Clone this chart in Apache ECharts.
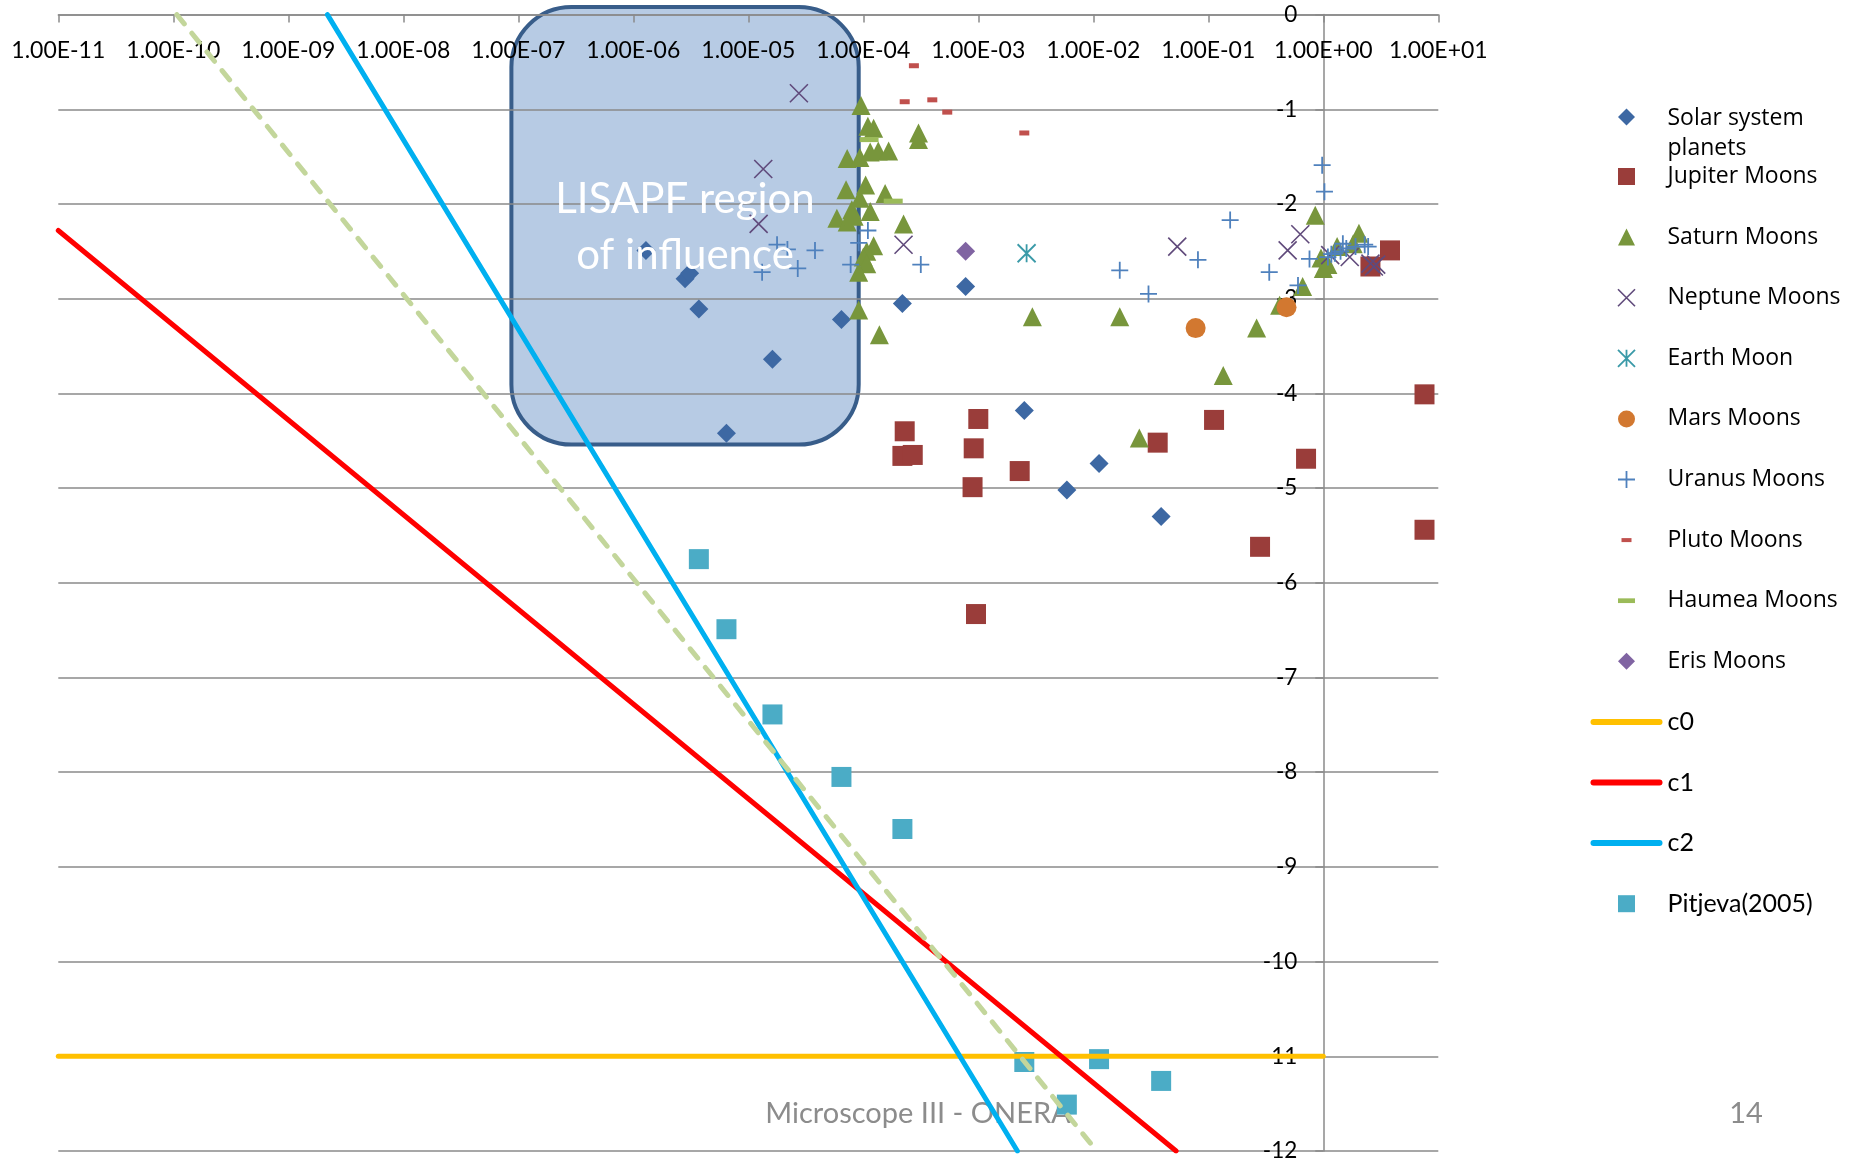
<!DOCTYPE html>
<html>
<head>
<meta charset="utf-8">
<title>Mass ratio vs. effect</title>
<script src="https://cdn.jsdelivr.net/npm/echarts@6/dist/echarts.min.js"></script>
<style>
  html, body { margin: 0; padding: 0; background: #ffffff; }
  #chart { width: 1854px; height: 1158px; }
</style>
</head>
<body>
<div id="chart"></div>
<script>
// Every point is [log10(x), log10(y)]; the x axis is labelled as powers of ten.
const xTickLabels = ['1.00E-11', '1.00E-10', '1.00E-09', '1.00E-08', '1.00E-07', '1.00E-06',
  '1.00E-05', '1.00E-04', '1.00E-03', '1.00E-02', '1.00E-01', '1.00E+00', '1.00E+01'];

const solarPlanets = [[-5.89, -2.49], [-5.55, -2.79], [-5.51, -2.73], [-5.43, -3.11], [-5.19, -4.42],
  [-4.79, -3.64], [-4.19, -3.22], [-3.66, -3.05], [-3.11, -2.87], [-2.60, -4.18], [-2.23, -5.02],
  [-1.95, -4.74], [-1.41, -5.30]];

const jupiterMoons = [[-3.64, -4.40], [-3.66, -4.66], [-3.57, -4.65], [-3.00, -4.27], [-3.04, -4.58],
  [-3.05, -4.99], [-2.64, -4.82], [-3.02, -6.33], [-1.44, -4.52], [-0.95, -4.28], [-0.55, -5.62],
  [-0.15, -4.69], [0.41, -2.66], [0.58, -2.49], [0.88, -4.01], [0.88, -5.44]];

const saturnMoons = [[-4.02, -0.96], [-3.96, -1.18], [-3.91, -1.20], [-3.52, -1.25], [-3.52, -1.32],
  [-4.14, -1.52], [-4.03, -1.51], [-3.94, -1.45], [-3.87, -1.44], [-3.78, -1.44], [-4.15, -1.85],
  [-3.98, -1.80], [-3.81, -1.89], [-4.23, -2.15], [-4.14, -2.19], [-4.10, -2.06], [-4.03, -1.94],
  [-3.94, -2.08], [-3.65, -2.21], [-4.08, -2.13], [-3.91, -2.44], [-3.97, -2.50], [-4.00, -2.56],
  [-3.97, -2.63], [-4.04, -2.72], [-4.04, -3.12], [-3.86, -3.38], [-2.53, -3.19], [-1.77, -3.19],
  [-1.60, -4.47], [-0.87, -3.81], [-0.58, -3.31], [-0.38, -3.07], [-0.18, -2.87], [-0.07, -2.12],
  [-0.02, -2.57], [0.00, -2.68], [0.04, -2.64], [0.12, -2.45], [0.26, -2.42], [0.31, -2.31]];

const neptuneMoons = [[-4.56, -0.83], [-4.87, -1.63], [-4.91, -2.21], [-3.65, -2.43], [-1.27, -2.45],
  [-0.31, -2.49], [-0.20, -2.32], [0.06, -2.54], [0.23, -2.56], [0.41, -2.63], [0.46, -2.64],
  [0.44, -2.66]];

const earthMoon = [[-2.58, -2.52]];

const marsMoons = [[-1.11, -3.31], [-0.32, -3.09]];

const uranusMoons = [[-4.75, -2.43], [-4.66, -2.48], [-4.88, -2.72], [-4.57, -2.68], [-4.42, -2.49],
  [-3.96, -2.28], [-4.04, -2.41], [-4.11, -2.64], [-3.50, -2.64], [-1.77, -2.70], [-1.52, -2.95],
  [-1.09, -2.59], [-0.81, -2.17], [-0.47, -2.72], [-0.22, -2.86], [-0.01, -1.59], [0.01, -1.87],
  [-0.12, -2.58], [0.04, -2.56], [0.15, -2.50], [0.17, -2.42], [0.20, -2.47], [0.28, -2.45],
  [0.36, -2.43], [0.39, -2.45], [0.10, -2.52], [0.07, -2.53]];

const plutoMoons = [[-3.56, -0.54], [-3.64, -0.92], [-3.40, -0.90], [-3.27, -1.03], [-2.60, -1.25]];

const haumeaMoons = [[-3.95, -1.32], [-3.74, -1.97]];

const erisMoons = [[-3.11, -2.50]];

const pitjeva2005 = [[-5.43, -5.75], [-5.19, -6.49], [-4.79, -7.39], [-4.19, -8.05], [-3.66, -8.60],
  [-2.60, -11.06], [-1.95, -11.03], [-1.41, -11.26], [-2.23, -11.51]];

// Limit lines, given by their end points
const c0Line = [[-11, -11], [0, -11]];
const c1Line = [[-11, -2.28], [-1.28, -12]];
const c2Line = [[-8.66, 0], [-2.66, -12]];
const trendLine = [[-9.97, 0], [-1.97, -12]];

// Corners of the LISAPF region (same units as the points)
const lisapfRegion = [[-7.06, 0.08], [-4.04, -4.54]];

const chart = echarts.init(document.getElementById('chart'), null, { renderer: 'canvas' });

const GRID_COLOR = '#8a8a8a';
const xMark = 'path://M0,0L10,10M10,0L0,10';
const plusMark = 'path://M5,0L5,10M0,5L10,5';
const starMark = 'path://M0,0L10,10M10,0L0,10M5,0L5,10';
const dashMark = 'path://M0,0h10v4h-10z';

// Legend icons (square boxes so they keep their shape)
const iconDiamond = 'path://M8.5,0L17,8.5L8.5,17L0,8.5Z';
const iconSquare = 'path://M0,0H17V17H0Z';
const iconTriangle = 'path://M8.5,0L17,17H0Z';
const iconCircle = 'path://M0,8.5A8.5,8.5 0 1 1 17,8.5A8.5,8.5 0 1 1 0,8.5Z';
const iconLine = 'path://M3,0H69A3,3 0 0 1 69,6H3A3,3 0 0 1 3,0Z';
// diamond sitting on the first of two text lines
const iconDiamondTop = 'path://M0,0M17,50M8.5,0L17,8.5L8.5,17L0,8.5Z';

function scatter(name, data, symbol, size, color, extra) {
  return Object.assign({
    name: name,
    type: 'scatter',
    data: data,
    symbol: symbol,
    symbolSize: size,
    itemStyle: { color: color, opacity: 1 },
    emphasis: { disabled: true },
    animation: false
  }, extra || {});
}
function strokeScatter(name, data, symbol, size, color, width) {
  return scatter(name, data, symbol, size, color, {
    itemStyle: { color: color, borderColor: color, borderWidth: width, opacity: 1 }
  });
}
function line(name, data, color, width, type) {
  return {
    name: name,
    type: 'line',
    data: data,
    symbol: 'none',
    lineStyle: { color: color, width: width, type: type || 'solid', cap: 'round' },
    itemStyle: { color: color },
    emphasis: { disabled: true },
    animation: false
  };
}

const legendText = { fontFamily: 'Open Sans', fontSize: 23, color: '#000', lineHeight: 29 };
const calibriLike = { fontFamily: 'Lato', fontSize: 25 };
const LEGEND_LEFT = 1585.5;

const option = {
  backgroundColor: '#ffffff',
  animation: false,
  grid: {
    left: 58.3, top: 14.6, width: 1380, height: 1136.4,
    containLabel: false, outerBoundsMode: 'none'
  },
  xAxis: {
    type: 'value',
    position: 'top',
    min: -11, max: 1, interval: 1,
    axisLine: { show: true, lineStyle: { color: GRID_COLOR, width: 1.5 } },
    axisTick: { show: true, inside: true, length: 8, lineStyle: { color: GRID_COLOR, width: 1.5 } },
    axisLabel: {
      inside: true, margin: 24,
      color: '#000', fontFamily: 'Lato', fontSize: 23,
      formatter: function (v) { return xTickLabels[Math.round(v) + 11]; }
    },
    splitLine: { show: false }
  },
  yAxis: {
    type: 'value',
    position: 'left',
    offset: -1265,
    min: -12, max: 0, interval: 1,
    axisLine: { show: true, lineStyle: { color: GRID_COLOR, width: 1.5 } },
    axisTick: { show: true, inside: false, length: 8, lineStyle: { color: GRID_COLOR, width: 1.5 } },
    axisLabel: { margin: 26, color: '#000', fontFamily: 'Lato', fontSize: 22.5 },
    splitLine: { show: true, lineStyle: { color: GRID_COLOR, width: 1.5 } }
  },
  legend: [
    {
      orient: 'vertical',
      left: LEGEND_LEFT + 27.5, top: 98.6,
      itemWidth: 72, itemHeight: 50,
      selectedMode: false,
      symbolKeepAspect: true,
      formatter: function () { return 'Solar system\nplanets'; },
      textStyle: { fontFamily: 'Open Sans', fontSize: 23, color: '#000', lineHeight: 30 },
      itemStyle: { borderWidth: 'inherit' },
      data: [{ name: 'Solar system planets', icon: iconDiamondTop }]
    },
    {
      orient: 'vertical',
      left: LEGEND_LEFT, top: 157,
      itemWidth: 72, itemHeight: 17, itemGap: 31.6,
      selectedMode: false,
      symbolKeepAspect: true,
      textStyle: legendText,
      itemStyle: { borderWidth: 'inherit' },
      data: [
        { name: 'Jupiter Moons', icon: iconSquare },
        { name: 'Saturn Moons', icon: iconTriangle },
        { name: 'Neptune Moons' },
        { name: 'Earth Moon' },
        { name: 'Mars Moons', icon: iconCircle },
        { name: 'Uranus Moons' },
        { name: 'Pluto Moons', icon: 'path://M0,0M17,17M3.5,6.5h10v4h-10z' },
        { name: 'Haumea Moons', icon: 'path://M0,0M18,18M0,6.5h18v5h-18z' },
        { name: 'Eris Moons', icon: iconDiamond },
        { name: 'c0', icon: iconLine, itemStyle: { color: '#ffc000', borderWidth: 0 }, textStyle: calibriLike },
        { name: 'c1', icon: iconLine, itemStyle: { color: '#ff0000', borderWidth: 0 }, textStyle: calibriLike },
        { name: 'c2', icon: iconLine, itemStyle: { color: '#00b0f0', borderWidth: 0 }, textStyle: calibriLike },
        { name: 'Pitjeva(2005)', icon: iconSquare, textStyle: calibriLike }
      ]
    }
  ],
  series: [
    scatter('Solar system planets', solarPlanets, 'diamond', 19, '#3d68a3'),
    scatter('Jupiter Moons', jupiterMoons, 'rect', 20, '#9a3d3a'),
    scatter('Saturn Moons', saturnMoons, 'triangle', 19, '#78963c'),
    strokeScatter('Neptune Moons', neptuneMoons, xMark, 18, '#604a7b', 1.6),
    strokeScatter('Earth Moon', earthMoon, starMark, 18, '#3a9aa8', 1.8),
    scatter('Mars Moons', marsMoons, 'circle', 20, '#d27830'),
    strokeScatter('Uranus Moons', uranusMoons, plusMark, 17, '#4f81bd', 1.8),
    scatter('Pluto Moons', plutoMoons, dashMark, [10, 5], '#c0504d'),
    scatter('Haumea Moons', haumeaMoons, dashMark, [19, 5], '#9bbb59'),
    scatter('Eris Moons', erisMoons, 'diamond', 19, '#8064a2'),
    line('c0', c0Line, '#ffc000', 5),
    line('c1', c1Line, '#ff0000', 5),
    line('c2', c2Line, '#00b0f0', 5),
    line('trend', trendLine, '#c3d69b', 5, [12, 12]),
    scatter('Pitjeva(2005)', pitjeva2005, 'rect', 20, '#4bacc6')
  ]
};

chart.setOption(option);

// Rounded region box and slide footer, placed through the grid's own scales
const p0 = chart.convertToPixel({ gridIndex: 0 }, lisapfRegion[0]);
const p1 = chart.convertToPixel({ gridIndex: 0 }, lisapfRegion[1]);
const bx = Math.min(p0[0], p1[0]), by = Math.min(p0[1], p1[1]);
const bw = Math.abs(p1[0] - p0[0]), bh = Math.abs(p1[1] - p0[1]);

chart.setOption({
  graphic: [
    {
      type: 'rect', z: -5, silent: true,
      shape: { x: bx, y: by, width: bw, height: bh, r: 60 },
      style: { fill: '#b7cbe4', stroke: '#385d8a', lineWidth: 4 }
    },
    {
      type: 'text', z: 50, silent: true,
      style: {
        text: 'LISAPF region\nof influence',
        x: bx + bw / 2, y: by + bh / 2 + 2,
        fill: '#ffffff', font: '42px Lato',
        align: 'center', verticalAlign: 'middle', lineHeight: 56
      }
    },
    {
      type: 'text', z: 1, silent: true,
      style: {
        text: 'Microscope III - ONERA', x: 918, y: 1114,
        fill: '#8c8c8c', font: '29px Lato', align: 'center', verticalAlign: 'middle'
      }
    },
    {
      type: 'text', z: 1, silent: true,
      style: {
        text: '14', x: 1746, y: 1114,
        fill: '#8c8c8c', font: '29px Lato', align: 'center', verticalAlign: 'middle'
      }
    }
  ]
});
</script>
</body>
</html>
